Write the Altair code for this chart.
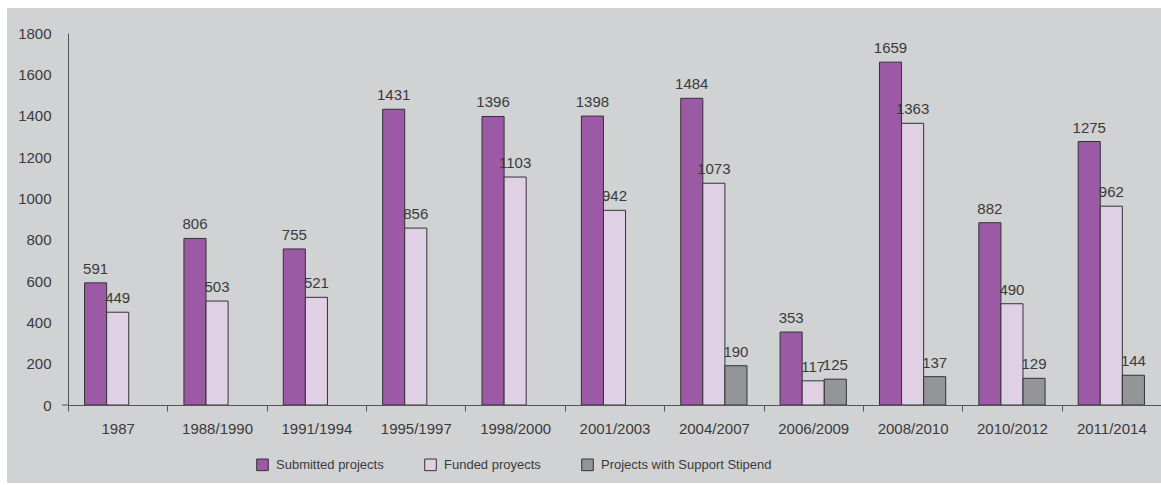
import altair as alt
import pandas as pd

categories = ["1987", "1988/1990", "1991/1994", "1995/1997", "1998/2000", "2001/2003",
              "2004/2007", "2006/2009", "2008/2010", "2010/2012", "2011/2014"]
submitted = [591, 806, 755, 1431, 1396, 1398, 1484, 353, 1659, 882, 1275]
funded = [449, 503, 521, 856, 1103, 942, 1073, 117, 1363, 490, 962]
stipend = [None, None, None, None, None, None, 190, 125, 137, 129, 144]
series_names = ["Submitted projects", "Funded proyects", "Projects with Support Stipend"]
series_colors = ["#9b59a6", "#dfd0e5", "#939598"]

rows = []
for name, vals in zip(series_names, [submitted, funded, stipend]):
    for c, v in zip(categories, vals):
        if v is not None:
            rows.append({"period": c, "series": name, "value": v})
df = pd.DataFrame(rows)

W, H = 1093, 372
FONT = "Liberation Sans"
TXT = "#3a3a3a"

x = alt.X("period:N", sort=categories, title=None,
          scale=alt.Scale(paddingInner=0, paddingOuter=0),
          axis=alt.Axis(labelAngle=0, tickBand="extent", tickSize=6, tickColor="#555",
                        domainColor="#555", labelPadding=10, labelFontSize=15,
                        labelColor=TXT, labelFont=FONT, grid=False, zindex=1))
xoff = alt.XOffset("series:N", sort=series_names,
                   scale=alt.Scale(domain=series_names, paddingInner=0, paddingOuter=0.75))
y = alt.Y("value:Q", title=None,
          scale=alt.Scale(domain=[0, 1800], nice=False),
          axis=alt.Axis(values=list(range(0, 1801, 200)), format="d", ticks=False,
                        labelPadding=17, domainColor="#555", labelFontSize=15,
                        labelColor=TXT, labelFont=FONT, grid=False, zindex=1))
color = alt.Color("series:N", sort=series_names, title=None,
                  scale=alt.Scale(domain=series_names, range=series_colors),
                  legend=alt.Legend(orient="none", legendX=188, legendY=425,
                                    direction="horizontal", columns=3, columnPadding=38,
                                    symbolType="square", symbolSize=135,
                                    symbolStrokeColor="#333", symbolStrokeWidth=1,
                                    labelFontSize=13, labelFont=FONT, labelColor=TXT,
                                    labelOffset=7, labelLimit=400))

bg = alt.Chart(pd.DataFrame({"a": [0]})).mark_rect(color="#d1d2d4").encode(
    x=alt.value(-61), x2=alt.value(W), y=alt.value(-25), y2=alt.value(H + 78))

base = alt.Chart(df)
bars = base.mark_bar(stroke="#333", strokeWidth=1).encode(x=x, xOffset=xoff, y=y, color=color)
labels = base.mark_text(baseline="bottom", dy=-6, fontSize=15, font=FONT, color=TXT).encode(
    x=alt.X("period:N", sort=categories), xOffset=alt.XOffset("series:N", sort=series_names),
    y="value:Q", text="value:Q")
ytick = alt.Chart(pd.DataFrame({"a": [0]})).mark_rule(color="#555").encode(
    x=alt.value(-6), x2=alt.value(0), y=alt.value(H))

chart = alt.layer(bg, bars, labels, ytick).properties(
    width=W, height=H,
    autosize=alt.AutoSizeParams(type="none"),
    padding={"left": 68, "top": 33, "right": 0, "bottom": 80},
    background="white",
).configure_view(stroke=None)

chart.save("out.html", embed_options={"renderer": "svg", "actions": False})
